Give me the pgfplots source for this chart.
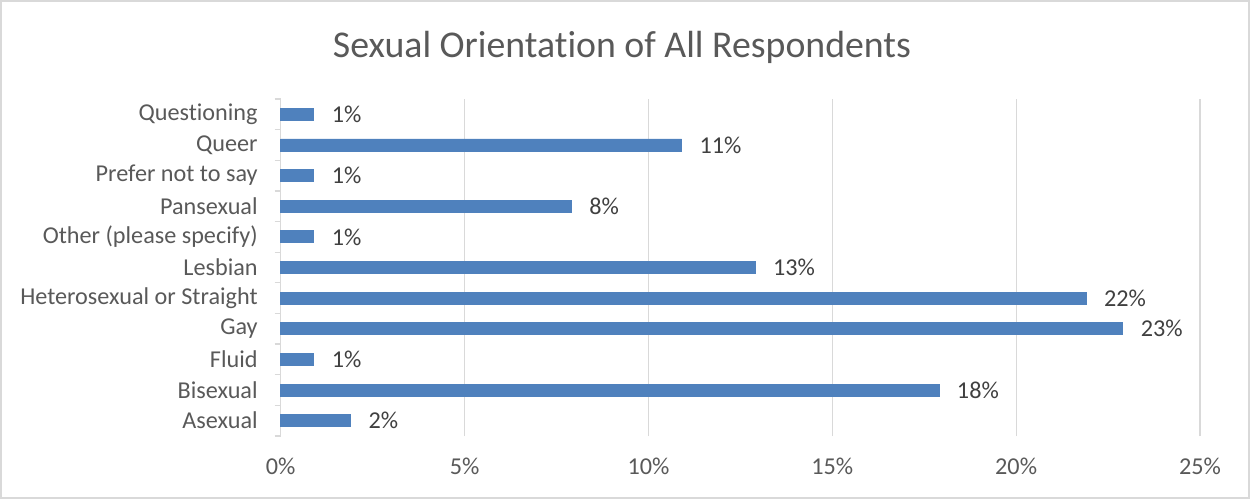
\documentclass[border=0pt]{standalone}
\usepackage{pgfplots}
\pgfplotsset{compat=1.18}
\usepackage{fontspec}
\setmainfont{Carlito}[Ligatures=NoCommon]
\definecolor{barblue}{RGB}{79,129,189}
\definecolor{txtgray}{RGB}{89,89,89}
\definecolor{lblgray}{RGB}{64,64,64}
\definecolor{gridgray}{RGB}{217,217,217}
\begin{document}
\begin{tikzpicture}
\draw[gridgray,line width=1pt] (0.5pt,0.5pt) rectangle (624.5pt,249pt);
\node[text=txtgray,font=\fontsize{18.9}{22}\selectfont] at (311pt,226pt) {Sexual Orientation of All Respondents};
\begin{axis}[
  at={(140.35pt,31.5pt)}, anchor=south west,
  scale only axis, width=459.65pt, height=168.5pt,
  xmin=0, xmax=25, ymin=-0.5, ymax=10.5,
  xbar, bar width=6pt,
  /pgf/number format/assume math mode=true,
  xtick={0,5,10,15,20,25},
  xticklabel={\pgfmathprintnumber{\tick}\%},
  ytick={0,...,10},
  yticklabels={Asexual,Bisexual,Fluid,Gay,Heterosexual or Straight,Lesbian,Other (please specify),Pansexual,Prefer not to say,Queer,Questioning},
  minor ytick={-0.5,0.5,...,10.5},
  major tick length=0pt, minor tick length=3pt,
  tick align=outside,
  minor tick style={gridgray, line width=0.6pt},
  xmajorgrids, grid style={gridgray, line width=0.6pt},
  axis y line*=left, axis x line*=bottom,
  x axis line style={draw=none},
  y axis line style={gridgray, line width=0.6pt},
  tick label style={text=txtgray, font=\fontsize{12.1}{14}\selectfont},
  xticklabel style={yshift=-7.5pt},
  yticklabel style={xshift=-8pt},
  nodes near coords={\pgfmathprintnumber[fixed,precision=0]{\pgfplotspointmeta}\%},
  point meta=x,
  every node near coord/.append style={text=lblgray, font=\fontsize{12.1}{14}\selectfont, anchor=west, xshift=5.5pt},
  clip=false,
]
\addplot[fill=barblue, draw=barblue] coordinates {
(1.9,0) (17.9,1) (0.9,2) (22.9,3) (21.9,4) (12.9,5) (0.9,6) (7.9,7) (0.9,8) (10.9,9) (0.9,10)};
\end{axis}
\end{tikzpicture}
\end{document}
